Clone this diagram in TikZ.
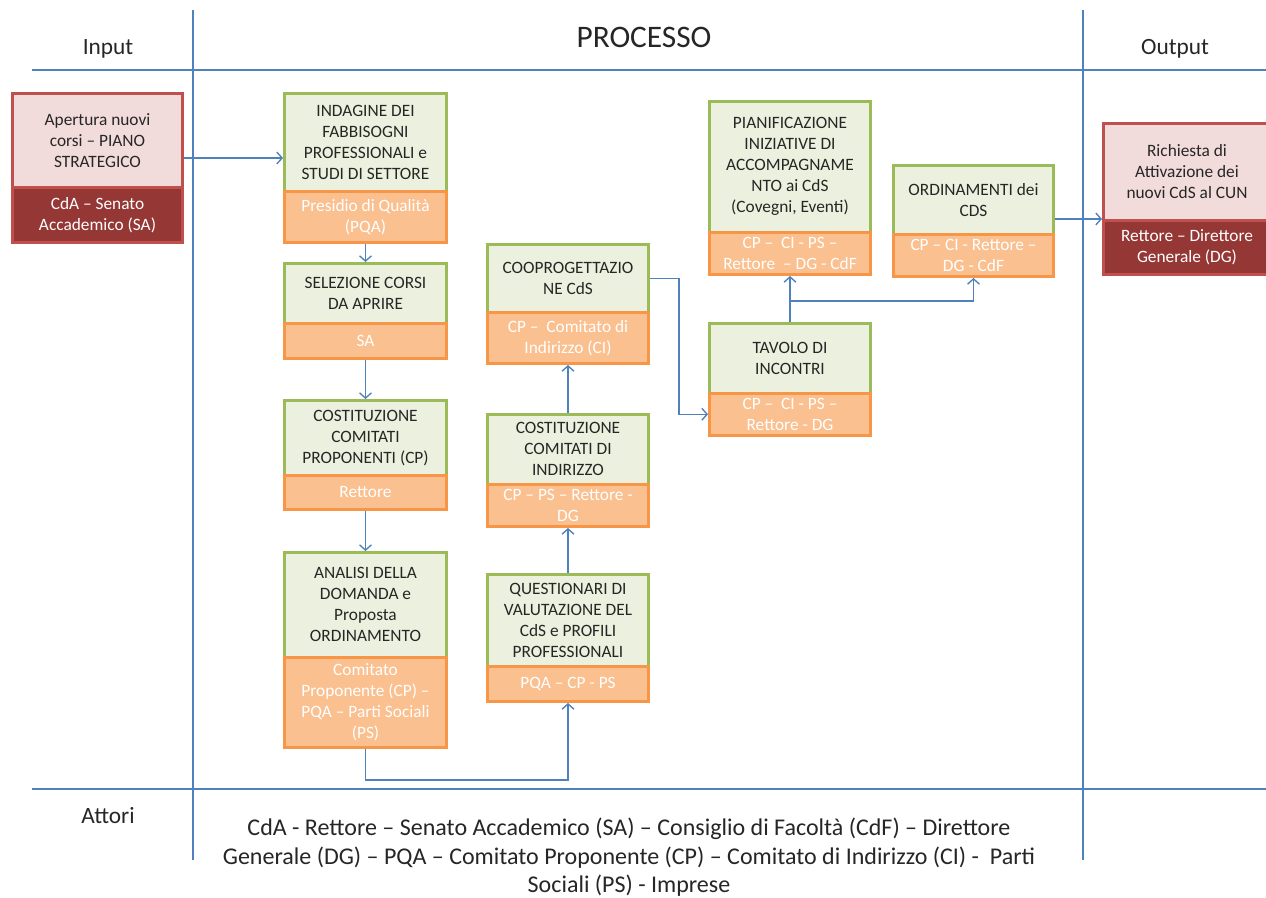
\documentclass[tikz,border=0pt]{standalone}
\usepackage{fontspec}
\setmainfont{Carlito}
\usetikzlibrary{arrows.meta,calc}
\definecolor{gborder}{HTML}{9BBB59}
\definecolor{gfill}{HTML}{EBF1DE}
\definecolor{oborder}{HTML}{F79646}
\definecolor{ofill}{HTML}{FAC090}
\definecolor{rborder}{HTML}{C0504D}
\definecolor{rfill}{HTML}{F2DCDB}
\definecolor{rdark}{HTML}{953735}
\definecolor{lblue}{HTML}{4F81BD}
\definecolor{txt}{HTML}{262626}
\newcommand{\boxfont}{\fontsize{13}{15.75}\selectfont}
\newcommand{\hdfont}{\fontsize{17.5}{21.75}\selectfont}
\newcommand{\actfont}{\fontsize{18}{21.3}\selectfont}
\newcommand{\titlefont}{\fontsize{23.5}{28}\selectfont}
\tikzset{
  partbase/.style={line width=2.25pt, align=center, inner sep=0pt, font=\boxfont, anchor=north west},
  gtop/.style={partbase, draw=gborder, fill=gfill, text=txt},
  gbot/.style={partbase, draw=oborder, fill=ofill, text=white},
  rtop/.style={partbase, draw=rborder, fill=rfill, text=txt},
  rbot/.style={partbase, draw=rborder, fill=rdark, text=white},
  conn/.style={draw=lblue, line width=1pt, -{Straight Barb[length=4pt,width=9pt]}},
  gridline/.style={draw=lblue, line width=1.1pt},
  hd/.style={font=\hdfont, text=txt, inner sep=0pt},
}
% #1 style prefix, #2 name, #3 x1, #4 y1, #5 x2, #6 ydiv, #7 y2, #8 top, #9 bottom
\newcommand{\twobox}[9]{%
  \node[#1top, minimum width={(#5-#3-3)*0.75pt}, minimum height={(#6-#4-1.5)*0.75pt}] (#2t) at (#3,#4) {#8};
  \node[#1bot, minimum width={(#5-#3-3)*0.75pt}, minimum height={(#7-#6-1.5)*0.75pt}] (#2b) at (#3,#6-1.5) {#9};
}
\begin{document}
\begin{tikzpicture}[x=0.75pt,y=-0.75pt]
\useasboundingbox (0,0) rectangle (1266,897);
\fill[white] (0,0) rectangle (1266,897);
% grid
\coordinate (gtl) at (32,70);
\coordinate (gtr) at (1266,70);
\coordinate (gbl) at (32,789);
\coordinate (gbr) at (1266,789);
\coordinate (v1t) at (193,10);
\coordinate (v1b) at (193,860);
\coordinate (v2t) at (1083,10);
\coordinate (v2b) at (1083,860);
\draw[gridline] (gtl) -- (gtr);
\draw[gridline] (gbl) -- (gbr);
\draw[gridline] (v1t) -- (v1b);
\draw[gridline] (v2t) -- (v2b);
% headers
\node[hd] (input) at (108,49) {Input};
\node[font=\titlefont, text=txt, inner sep=0pt] (proc) at (644,37) {PROCESSO};
\node[hd] (output) at (1175,49) {Output};
\node[hd] (attori) at (108,816) {Attori};
\node[font=\actfont, text=txt, inner sep=0pt, align=center, anchor=north] (actors) at (629,818) {CdA - Rettore – Senato Accademico (SA) – Consiglio di Facoltà (CdF) – Direttore\\Generale (DG) – PQA – Comitato Proponente (CP) – Comitato di Indirizzo (CI) -\ \ Parti\\Sociali (PS) - Imprese};
% boxes
\twobox{r}{A}{11}{92}{184}{187}{244}{Apertura nuovi\\corsi – PIANO\\STRATEGICO}{CdA – Senato\\Accademico (SA)}
\twobox{g}{B}{283}{92}{448}{191}{244}{INDAGINE DEI\\FABBISOGNI\\PROFESSIONALI e\\STUDI DI SETTORE}{Presidio di Qualità\\(PQA)}
\twobox{g}{C}{283}{262}{448}{323}{360}{SELEZIONE CORSI\\DA APRIRE}{SA}
\twobox{g}{D}{283}{399}{448}{475}{511}{COSTITUZIONE\\COMITATI\\PROPONENTI (CP)}{Rettore}
\twobox{g}{E}{283}{551}{448}{657}{749}{ANALISI DELLA\\DOMANDA e\\Proposta\\ORDINAMENTO}{Comitato\\Proponente (CP) –\\PQA – Parti Sociali\\(PS)}
\twobox{g}{F}{486}{573}{650}{666}{703}{QUESTIONARI DI\\VALUTAZIONE DEL\\CdS e PROFILI\\PROFESSIONALI}{PQA – CP - PS}
\twobox{g}{G}{486}{413}{650}{484}{528}{COSTITUZIONE\\COMITATI DI\\INDIRIZZO}{CP – PS – Rettore -\\DG}
\twobox{g}{H}{486}{243}{650}{312}{365}{COOPROGETTAZIO\\NE CdS}{CP –\ \ Comitato di\\Indirizzo (CI)}
\twobox{g}{I}{708}{322}{872}{393}{437}{TAVOLO DI\\INCONTRI}{CP –\ \ CI - PS –\\Rettore - DG}
\twobox{g}{J}{708}{100}{872}{232}{276}{PIANIFICAZIONE\\INIZIATIVE DI\\ACCOMPAGNAME\\NTO ai CdS\\(Covegni, Eventi)}{CP –\ \ CI - PS –\\Rettore\ \ – DG - CdF}
\twobox{g}{K}{892}{164}{1055}{234}{278}{ORDINAMENTI dei\\CDS}{CP – CI - Rettore –\\DG - CdF}
\twobox{r}{L}{1102}{122}{1272}{220}{276}{Richiesta di\\Attivazione dei\\nuovi CdS al CUN}{Rettore – Direttore\\Generale (DG)}
% connectors
\coordinate (yAB) at (0,158);
\draw[conn] (At.east |- yAB) -- (Bt.west |- yAB);
\draw[conn] (Bb.south) -- (Ct.north);
\draw[conn] (Cb.south) -- (Dt.north);
\draw[conn] (Db.south) -- (Et.north);
\coordinate (yEF) at (0,780);
\draw[conn] (Eb.south) -- (Eb.south |- yEF) -| (Fb.south);
\draw[conn] (Ft.north) -- (Gb.south);
\draw[conn] (Gt.north) -- (Hb.south);
\coordinate (xHI) at (679,0);
\draw[conn] (Ht.east) -- (Ht.east -| xHI) |- (Ib.west);
\draw[conn] (It.north) -- (Jb.south);
\coordinate (yIK) at (0,301);
\draw[conn] (It.north |- yIK) -| (Kb.south);
\coordinate (yKL) at (0,219);
\draw[conn] (Kt.east |- yKL) -- (Lt.west |- yKL);
\end{tikzpicture}
\end{document}
